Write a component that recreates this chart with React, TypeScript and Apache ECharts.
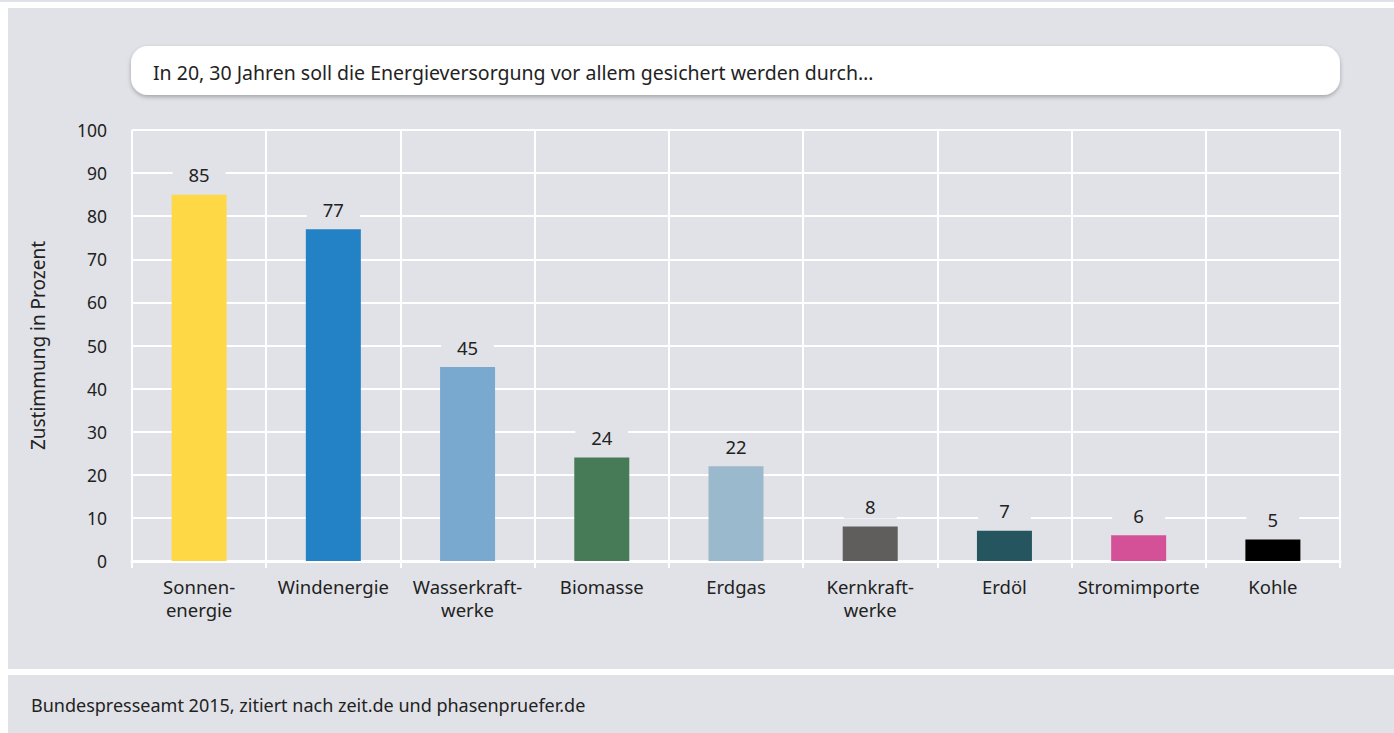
import React, { useEffect, useRef } from "react";
import * as echarts from "echarts";

const categories = [
  "Sonnen-\nenergie",
  "Windenergie",
  "Wasserkraft-\nwerke",
  "Biomasse",
  "Erdgas",
  "Kernkraft-\nwerke",
  "Erdöl",
  "Stromimporte",
  "Kohle",
];
const values = [85, 77, 45, 24, 22, 8, 7, 6, 5];
const barColors = [
  "#FED845",
  "#2381C5",
  "#79A9CE",
  "#477A56",
  "#9BB9CC",
  "#5F5E5D",
  "#25555F",
  "#D45197",
  "#000000",
];
const yTicks = { min: 0, max: 100, interval: 10 };
const title = "In 20, 30 Jahren soll die Energieversorgung vor allem gesichert werden durch…";
const source = "Bundespresseamt 2015, zitiert nach zeit.de und phasenpruefer.de";
const yName = "Zustimmung in Prozent";

const BG = "#E1E2E7";
const TXT = "#222222";
const FONT = "'Noto Sans', sans-serif";

export default function App() {
  const ref = useRef<HTMLDivElement>(null);
  useEffect(() => {
    if (!ref.current) return;
    const chart = echarts.init(ref.current, undefined, { renderer: "svg" });
    chart.setOption({
      animation: false,
      backgroundColor: "#ffffff",
      textStyle: { fontFamily: FONT },
      graphic: {
        elements: [
          { type: "rect", z: -10, shape: { x: 0, y: 0, width: 1394, height: 2 }, style: { fill: BG } },
          { type: "rect", z: -10, shape: { x: 8, y: 8, width: 1386, height: 661 }, style: { fill: BG } },
          { type: "rect", z: -10, shape: { x: 8, y: 675, width: 1386, height: 58 }, style: { fill: BG } },
          {
            type: "rect",
            z: 5,
            shape: { x: 131, y: 46, width: 1209, height: 49, r: 17 },
            style: {
              fill: "#ffffff",
              shadowBlur: 4,
              shadowOffsetY: 2,
              shadowColor: "rgba(0,0,0,0.28)",
            },
          },
          {
            type: "text",
            z: 6,
            x: 153,
            y: 72,
            style: {
              text: title,
              fill: TXT,
              font: `19.5px ${FONT}`,
              verticalAlign: "middle",
              align: "left",
            },
          },
          {
            type: "text",
            z: 6,
            x: 31,
            y: 705,
            style: {
              text: source,
              fill: TXT,
              font: `18px ${FONT}`,
              verticalAlign: "middle",
              align: "left",
            },
          },
        ],
      },
      grid: { left: 132, right: 54, top: 130, bottom: 172, containLabel: false },
      xAxis: {
        type: "category",
        data: categories,
        axisLine: { show: true, lineStyle: { color: "#ffffff", width: 3 } },
        axisTick: { show: true, length: 7, lineStyle: { color: "#ffffff", width: 2 } },
        splitLine: { show: true, lineStyle: { color: "#ffffff", width: 2 } },
        axisLabel: {
          color: TXT,
          fontSize: 18.5,
          lineHeight: 23,
          margin: 14,
          fontFamily: FONT,
          interval: 0,
        },
      },
      yAxis: {
        type: "value",
        min: yTicks.min,
        max: yTicks.max,
        interval: yTicks.interval,
        name: yName,
        nameLocation: "middle",
        nameRotate: 90,
        nameGap: 85,
        nameTextStyle: { color: TXT, fontSize: 19, fontFamily: FONT },
        axisLine: { show: false },
        axisTick: { show: false },
        splitLine: { show: true, lineStyle: { color: "#ffffff", width: 2 } },
        axisLabel: { color: TXT, fontSize: 17.5, margin: 25, fontFamily: FONT },
      },
      series: [
        {
          type: "bar",
          data: values.map((v, i) => ({ value: v, itemStyle: { color: barColors[i] } })),
          barWidth: 55,
          label: {
            show: true,
            position: "top",
            distance: 8,
            color: TXT,
            fontSize: 18.5,
            fontFamily: FONT,
            backgroundColor: BG,
            width: 53,
            align: "center",
            lineHeight: 20,
            padding: [2, 0],
          },
        },
      ],
    });
    return () => chart.dispose();
  }, []);
  return (
    <div
      ref={ref}
      style={{ position: "absolute", left: 0, top: 0, width: 1394, height: 733 }}
    />
  );
}
